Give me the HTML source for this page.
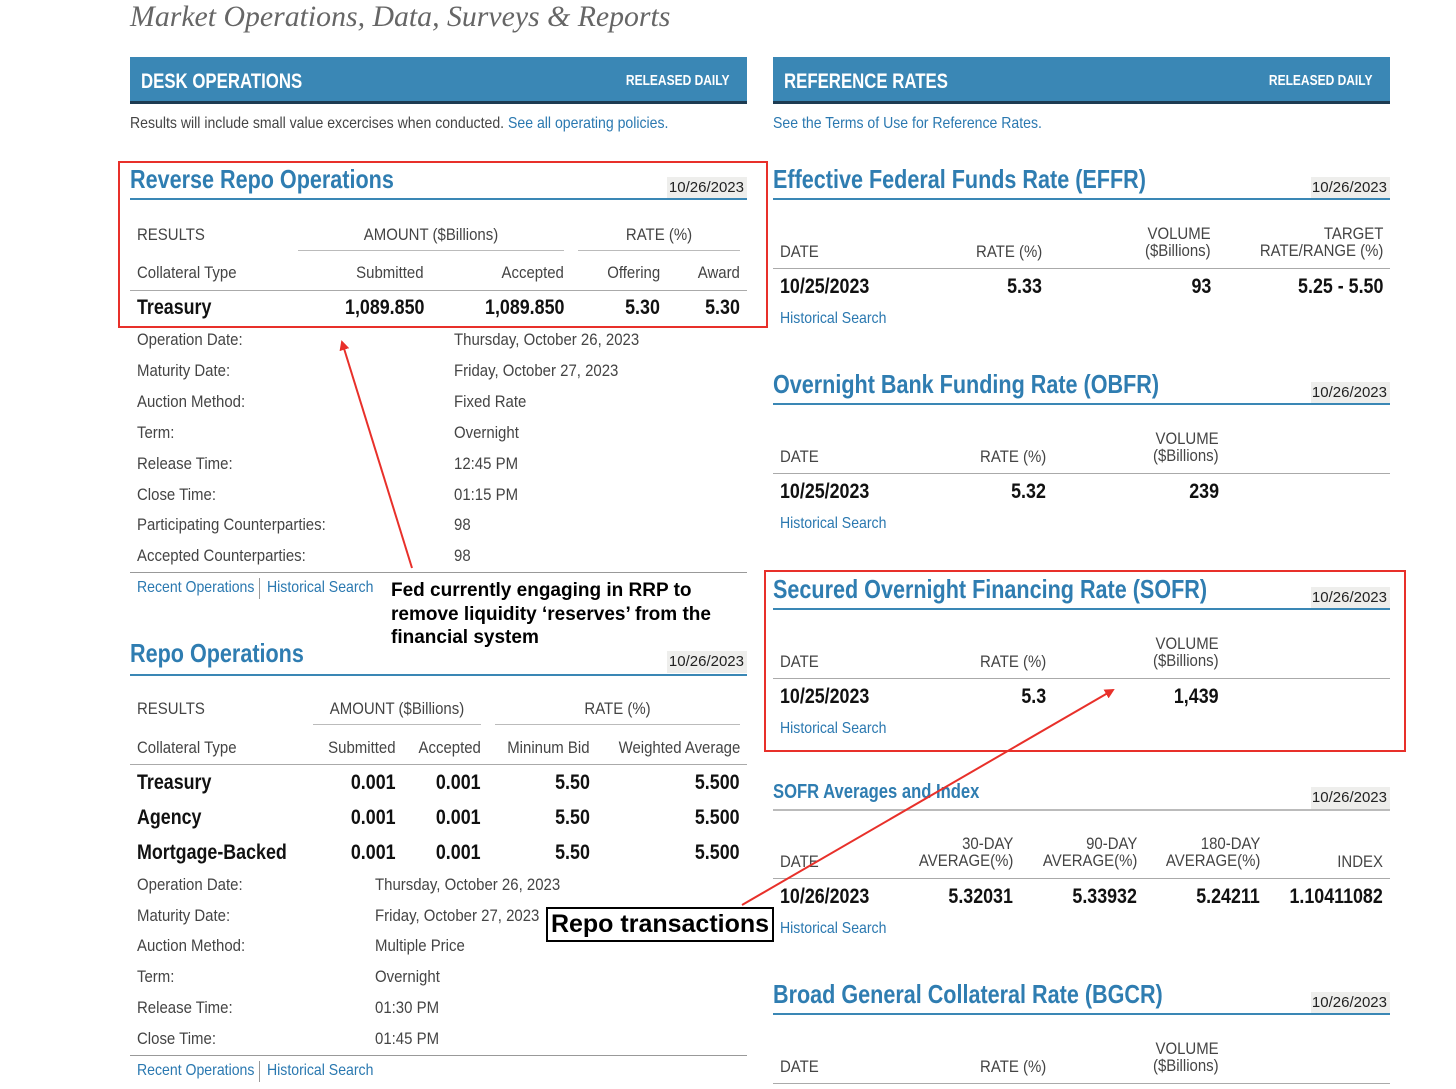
<!DOCTYPE html>
<html><head><meta charset="utf-8"><style>
body{margin:0;width:1456px;height:1089px;background:#fff;position:relative;overflow:hidden}
.t{position:absolute;white-space:nowrap;font-family:"Liberation Sans Narrow","Liberation Sans",sans-serif;line-height:1.2;transform-origin:left center;transform:scaleX(var(--k,1))}
.t[style*="right:"]{transform-origin:right center}
.t[style*="text-align:center"]{transform-origin:center center}
.s{font-size:17px;color:#444;--k:.88}
.b{font-size:21px;font-weight:bold;color:#111;--k:.85}
.h{font-size:26px;font-weight:bold;color:#2f7db1;--k:.83}
.l{font-size:16px;color:#2a78b0;--k:.88}
.s .l{--k:1}
.bar{position:absolute;background:#3a87b5;height:44px;border-bottom:3px solid #1d3b52}
.bt{color:#fff;font-weight:bold;--k:.8}
.d{position:absolute;background:#eeeeec;width:80px;height:22px;font-size:15px;color:#222;text-align:right;line-height:22px;font-family:"Liberation Sans Narrow","Liberation Sans",sans-serif}
.ln{position:absolute;height:1px;background:#bbb}
.bl{position:absolute;height:2px;background:#3a87b5}
.ann{position:absolute;font-family:"Liberation Sans",sans-serif;font-weight:bold;color:#000;white-space:nowrap}
</style></head><body>
<div class="t" style="left:130px;top:-1px;font-family:'Liberation Serif',serif;font-style:italic;font-size:29.8px;color:#666">Market Operations, Data, Surveys &amp; Reports</div>

<!-- LEFT -->
<div class="bar" style="left:130px;top:57px;width:617px"></div>
<div class="t bt" style="left:141px;top:69px;font-size:21px">DESK OPERATIONS</div>
<div class="t bt" style="right:727px;top:72px;font-size:15px">RELEASED DAILY</div>
<div class="t s" style="left:130px;top:114px;font-size:16px">Results will include small value excercises when conducted. <span class="l">See all operating policies.</span></div>

<div class="t h" style="left:130px;top:164px">Reverse Repo Operations</div>
<div class="d" style="left:667px;top:177px;padding-right:3px;width:77px">10/26/2023</div>
<div class="bl" style="left:130px;top:198px;width:617px"></div>
<div class="t s" style="left:137px;top:225px">RESULTS</div>
<div class="t s" style="left:298px;width:266px;text-align:center;top:225px">AMOUNT ($Billions)</div>
<div class="ln" style="left:298px;top:250px;width:266px"></div>
<div class="t s" style="left:578px;width:162px;text-align:center;top:225px">RATE (%)</div>
<div class="ln" style="left:578px;top:250px;width:162px"></div>
<div class="t s" style="left:137px;top:263px">Collateral Type</div>
<div class="t s" style="right:1032px;top:263px">Submitted</div>
<div class="t s" style="right:892px;top:263px">Accepted</div>
<div class="t s" style="right:796px;top:263px">Offering</div>
<div class="t s" style="right:716px;top:263px">Award</div>
<div class="ln" style="left:130px;top:290px;width:617px;background:#aaa"></div>
<div class="t b" style="left:137px;top:295px">Treasury</div>
<div class="t b" style="right:1032px;top:295px">1,089.850</div>
<div class="t b" style="right:892px;top:295px">1,089.850</div>
<div class="t b" style="right:796px;top:295px">5.30</div>
<div class="t b" style="right:716px;top:295px">5.30</div>

<div class="t s" style="left:137px;top:330px">Operation Date:</div><div class="t s" style="left:454px;top:330px">Thursday, October 26, 2023</div>
<div class="t s" style="left:137px;top:361px">Maturity Date:</div><div class="t s" style="left:454px;top:361px">Friday, October 27, 2023</div>
<div class="t s" style="left:137px;top:392px">Auction Method:</div><div class="t s" style="left:454px;top:392px">Fixed Rate</div>
<div class="t s" style="left:137px;top:423px">Term:</div><div class="t s" style="left:454px;top:423px">Overnight</div>
<div class="t s" style="left:137px;top:454px">Release Time:</div><div class="t s" style="left:454px;top:454px">12:45 PM</div>
<div class="t s" style="left:137px;top:485px">Close Time:</div><div class="t s" style="left:454px;top:485px">01:15 PM</div>
<div class="t s" style="left:137px;top:515px">Participating Counterparties:</div><div class="t s" style="left:454px;top:515px">98</div>
<div class="t s" style="left:137px;top:546px">Accepted Counterparties:</div><div class="t s" style="left:454px;top:546px">98</div>
<div class="ln" style="left:130px;top:572px;width:617px;background:#999"></div>
<div class="t l" style="left:137px;top:578px">Recent Operations</div>
<div class="ln" style="left:259px;top:578px;width:1px;height:21px;background:#999"></div>
<div class="t l" style="left:267px;top:578px">Historical Search</div>

<div class="ann" style="left:391px;top:579px;font-size:19px;line-height:23.5px">Fed currently engaging in RRP to<br>remove liquidity ‘reserves’ from the<br>financial system</div>

<div class="t h" style="left:130px;top:638px">Repo Operations</div>
<div class="d" style="left:667px;top:651px;padding-right:3px;width:77px">10/26/2023</div>
<div class="bl" style="left:130px;top:674px;width:617px"></div>
<div class="t s" style="left:137px;top:699px">RESULTS</div>
<div class="t s" style="left:313px;width:168px;text-align:center;top:699px">AMOUNT ($Billions)</div>
<div class="ln" style="left:313px;top:724px;width:168px"></div>
<div class="t s" style="left:495px;width:245px;text-align:center;top:699px">RATE (%)</div>
<div class="ln" style="left:495px;top:724px;width:245px"></div>
<div class="t s" style="left:137px;top:738px">Collateral Type</div>
<div class="t s" style="right:1060px;top:738px">Submitted</div>
<div class="t s" style="right:975px;top:738px">Accepted</div>
<div class="t s" style="right:866px;top:738px">Mininum Bid</div>
<div class="t s" style="right:716px;top:738px">Weighted Average</div>
<div class="ln" style="left:130px;top:764px;width:617px;background:#aaa"></div>
<div class="t b" style="left:137px;top:770px">Treasury</div>
<div class="t b" style="right:1060px;top:770px">0.001</div>
<div class="t b" style="right:975px;top:770px">0.001</div>
<div class="t b" style="right:866px;top:770px">5.50</div>
<div class="t b" style="right:716px;top:770px">5.500</div>
<div class="t b" style="left:137px;top:805px">Agency</div>
<div class="t b" style="right:1060px;top:805px">0.001</div>
<div class="t b" style="right:975px;top:805px">0.001</div>
<div class="t b" style="right:866px;top:805px">5.50</div>
<div class="t b" style="right:716px;top:805px">5.500</div>
<div class="t b" style="left:137px;top:840px">Mortgage-Backed</div>
<div class="t b" style="right:1060px;top:840px">0.001</div>
<div class="t b" style="right:975px;top:840px">0.001</div>
<div class="t b" style="right:866px;top:840px">5.50</div>
<div class="t b" style="right:716px;top:840px">5.500</div>

<div class="t s" style="left:137px;top:875px">Operation Date:</div><div class="t s" style="left:375px;top:875px">Thursday, October 26, 2023</div>
<div class="t s" style="left:137px;top:906px">Maturity Date:</div><div class="t s" style="left:375px;top:906px">Friday, October 27, 2023</div>
<div class="t s" style="left:137px;top:936px">Auction Method:</div><div class="t s" style="left:375px;top:936px">Multiple Price</div>
<div class="t s" style="left:137px;top:967px">Term:</div><div class="t s" style="left:375px;top:967px">Overnight</div>
<div class="t s" style="left:137px;top:998px">Release Time:</div><div class="t s" style="left:375px;top:998px">01:30 PM</div>
<div class="t s" style="left:137px;top:1029px">Close Time:</div><div class="t s" style="left:375px;top:1029px">01:45 PM</div>
<div class="ln" style="left:130px;top:1055px;width:617px;background:#999"></div>
<div class="t l" style="left:137px;top:1061px">Recent Operations</div>
<div class="ln" style="left:259px;top:1061px;width:1px;height:21px;background:#999"></div>
<div class="t l" style="left:267px;top:1061px">Historical Search</div>

<div class="ann" style="left:546px;top:907px;width:224px;height:31px;border:2px solid #000;background:#fff;font-size:25px;line-height:31px;text-align:center">Repo transactions</div>

<!-- RIGHT -->
<div class="bar" style="left:773px;top:57px;width:617px"></div>
<div class="t bt" style="left:784px;top:69px;font-size:21px">REFERENCE RATES</div>
<div class="t bt" style="right:84px;top:72px;font-size:15px">RELEASED DAILY</div>
<div class="t l" style="left:773px;top:114px">See the Terms of Use for Reference Rates.</div>

<div class="t h" style="left:773px;top:164px">Effective Federal Funds Rate (EFFR)</div>
<div class="d" style="left:1311px;top:177px;padding-right:3px;width:76px">10/26/2023</div>
<div class="bl" style="left:773px;top:198px;width:617px"></div>
<div class="t s" style="left:780px;top:242px">DATE</div>
<div class="t s" style="right:414px;top:242px">RATE (%)</div>
<div class="t s" style="right:245px;top:225px;text-align:right;line-height:17px">VOLUME<br>($Billions)</div>
<div class="t s" style="right:73px;top:225px;text-align:right;line-height:17px">TARGET<br>RATE/RANGE (%)</div>
<div class="ln" style="left:773px;top:268px;width:617px;background:#aaa"></div>
<div class="t b" style="left:780px;top:274px">10/25/2023</div>
<div class="t b" style="right:414px;top:274px">5.33</div>
<div class="t b" style="right:245px;top:274px">93</div>
<div class="t b" style="right:73px;top:274px">5.25 - 5.50</div>
<div class="t l" style="left:780px;top:309px">Historical Search</div>

<div class="t h" style="left:773px;top:369px">Overnight Bank Funding Rate (OBFR)</div>
<div class="d" style="left:1311px;top:382px;padding-right:3px;width:76px">10/26/2023</div>
<div class="bl" style="left:773px;top:403px;width:617px"></div>
<div class="t s" style="left:780px;top:447px">DATE</div>
<div class="t s" style="right:410px;top:447px">RATE (%)</div>
<div class="t s" style="right:237px;top:430px;text-align:right;line-height:17px">VOLUME<br>($Billions)</div>
<div class="ln" style="left:773px;top:473px;width:617px;background:#aaa"></div>
<div class="t b" style="left:780px;top:479px">10/25/2023</div>
<div class="t b" style="right:410px;top:479px">5.32</div>
<div class="t b" style="right:237px;top:479px">239</div>
<div class="t l" style="left:780px;top:514px">Historical Search</div>

<div class="t h" style="left:773px;top:574px">Secured Overnight Financing Rate (SOFR)</div>
<div class="d" style="left:1311px;top:587px;padding-right:3px;width:76px">10/26/2023</div>
<div class="bl" style="left:773px;top:608px;width:617px"></div>
<div class="t s" style="left:780px;top:652px">DATE</div>
<div class="t s" style="right:410px;top:652px">RATE (%)</div>
<div class="t s" style="right:237px;top:635px;text-align:right;line-height:17px">VOLUME<br>($Billions)</div>
<div class="ln" style="left:773px;top:678px;width:617px;background:#aaa"></div>
<div class="t b" style="left:780px;top:684px">10/25/2023</div>
<div class="t b" style="right:410px;top:684px">5.3</div>
<div class="t b" style="right:237px;top:684px">1,439</div>
<div class="t l" style="left:780px;top:719px">Historical Search</div>

<div class="t" style="left:773px;top:780px;font-size:20px;font-weight:bold;color:#2f7db1;--k:.83">SOFR Averages and Index</div>
<div class="d" style="left:1311px;top:787px;padding-right:3px;width:76px">10/26/2023</div>
<div class="ln" style="left:773px;top:809px;width:617px;height:2px;background:#bbb"></div>
<div class="t s" style="left:780px;top:852px">DATE</div>
<div class="t s" style="right:443px;top:835px;text-align:right;line-height:17px">30-DAY<br>AVERAGE(%)</div>
<div class="t s" style="right:319px;top:835px;text-align:right;line-height:17px">90-DAY<br>AVERAGE(%)</div>
<div class="t s" style="right:196px;top:835px;text-align:right;line-height:17px">180-DAY<br>AVERAGE(%)</div>
<div class="t s" style="right:73px;top:852px">INDEX</div>
<div class="ln" style="left:773px;top:878px;width:617px;background:#aaa"></div>
<div class="t b" style="left:780px;top:884px">10/26/2023</div>
<div class="t b" style="right:443px;top:884px">5.32031</div>
<div class="t b" style="right:319px;top:884px">5.33932</div>
<div class="t b" style="right:196px;top:884px">5.24211</div>
<div class="t b" style="right:73px;top:884px">1.10411082</div>
<div class="t l" style="left:780px;top:919px">Historical Search</div>

<div class="t h" style="left:773px;top:979px">Broad General Collateral Rate (BGCR)</div>
<div class="d" style="left:1311px;top:992px;padding-right:3px;width:76px">10/26/2023</div>
<div class="bl" style="left:773px;top:1013px;width:617px"></div>
<div class="t s" style="left:780px;top:1057px">DATE</div>
<div class="t s" style="right:410px;top:1057px">RATE (%)</div>
<div class="t s" style="right:237px;top:1040px;text-align:right;line-height:17px">VOLUME<br>($Billions)</div>
<div class="ln" style="left:773px;top:1083px;width:617px;background:#aaa"></div>

<!-- annotations -->
<div style="position:absolute;left:118px;top:161px;width:646px;height:163px;border:2px solid #e8302a"></div>
<div style="position:absolute;left:764px;top:570px;width:638px;height:178px;border:2px solid #e8302a"></div>
<svg width="1456" height="1089" style="position:absolute;left:0;top:0">
<defs><marker id="ah" markerWidth="10" markerHeight="10" refX="8" refY="5" orient="auto" markerUnits="userSpaceOnUse"><path d="M0,0 L10,5 L0,10 z" fill="#e8302a"/></marker></defs>
<line x1="412" y1="568" x2="342" y2="342" stroke="#e8302a" stroke-width="2" marker-end="url(#ah)"/>
<line x1="742" y1="905" x2="1113" y2="690" stroke="#e8302a" stroke-width="2" marker-end="url(#ah)"/>
</svg>
</body></html>
